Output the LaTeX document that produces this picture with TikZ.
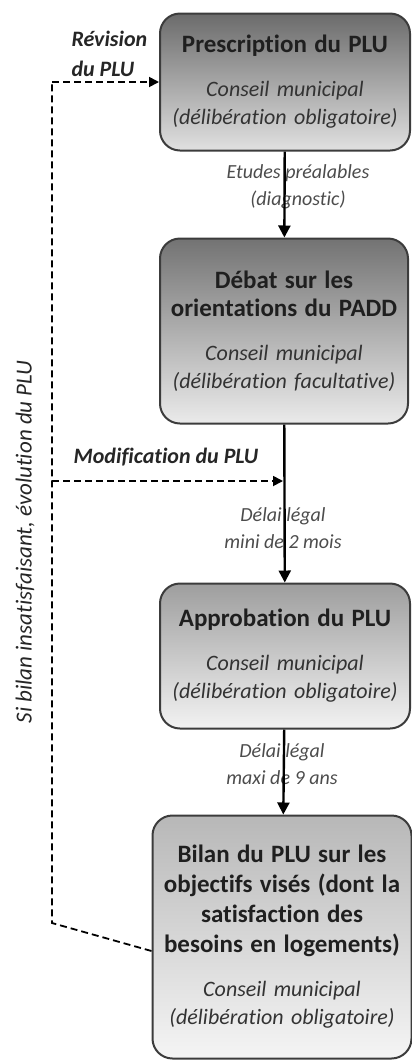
\documentclass[tikz,border=0pt]{standalone}
\usepackage{fontspec}
\setmainfont{Carlito}[Ligatures={NoCommon}]
\usetikzlibrary{arrows.meta,positioning}

\definecolor{cadre}{HTML}{3C3C3C}
\definecolor{texte}{HTML}{333333}

\tikzset{
  etape/.style={draw=cadre, line width=2pt, rounded corners=20pt,
    align=center, inner sep=0pt, text=texte,
    font=\fontsize{22}{28}\selectfont\itshape},
  flux/.style={line width=2.4pt, -{Triangle[length=12pt,width=12pt]}},
  retour/.style={line width=1.8pt, dash pattern=on 7pt off 4pt},
  legende/.style={font=\fontsize{20}{27}\selectfont\itshape, text=black!70, align=center},
  boucle/.style={font=\fontsize{22}{30}\selectfont\bfseries\itshape, text=black!85, align=left}
}
\newcommand{\titre}[1]{{\upshape\bfseries\fontsize{25}{32}\selectfont\color{black!88}#1}}

\begin{document}
\begin{tikzpicture}[x=1pt, y=-1pt]
  \useasboundingbox (0,0) rectangle (412,1061);

  % les quatre etapes
  \node[etape, top color=black!58, bottom color=black!12,
        text width=250pt, minimum height=137pt] (prescription) at (285,82)
    {\titre{Prescription du PLU}\\[16pt]Conseil municipal\\(délibération obligatoire)};
  \node[etape, top color=black!55, bottom color=black!8,
        text width=248pt, minimum height=185pt] (debat) at (284,331)
    {\titre{Débat sur les}\\\titre{orientations du PADD}\\[16pt]Conseil municipal\\(délibération facultative)};
  \node[etape, top color=black!38, bottom color=black!5,
        text width=250pt, minimum height=145pt] (approbation) at (285,656)
    {\titre{Approbation du PLU}\\[16pt]Conseil municipal\\(délibération obligatoire)};
  \node[etape, top color=black!28, bottom color=black!4,
        text width=259pt, minimum height=243pt] (bilan) at (282,937)
    {\titre{Bilan du PLU sur les}\\[2pt]\titre{objectifs visés (dont la}\\[2pt]\titre{satisfaction des}\\[2pt]\titre{besoins en logements)}\\[16pt]Conseil municipal\\(délibération obligatoire)};

  % legendes des fleches
  \node[legende] (etudes) at (298,187) {Etudes préalables\\(diagnostic)};
  \node[legende] (delai1) at (283,528) {Délai légal\\mini de 2 mois};
  \node[legende] (delai2) at (282,764) {Délai légal\\maxi de 9 ans};

  % enchainement
  \draw[flux] (prescription) -- (debat);
  \draw[flux] (debat) -- (approbation);
  \draw[flux] (approbation) -- (bilan);

  % boucle de retour
  \coordinate (bas) at (52,923);
  \coordinate (haut) at (52,82);
  \coordinate (milieu) at (52,481);
  \coordinate (jonction) at (283,481);
  \draw[retour] ([yshift=-14pt]bilan.west) -- (bas) -- (haut);
  \draw[retour, -{Triangle[length=10pt,width=10pt]}] (haut) -- (prescription.west);
  \draw[retour, -{Triangle[length=10pt,width=10pt]}] (milieu) -- (jonction);

  \node[boucle, anchor=west] (revision) at (68,54) {Révision\\du PLU};
  \node[boucle] (modification) at (166,457) {Modification du PLU};
  \node[font=\fontsize{23}{28}\selectfont\itshape, text=black!85, rotate=90]
    (evolution) at (25,542) {Si bilan insatisfaisant, évolution du PLU};
\end{tikzpicture}
\end{document}
